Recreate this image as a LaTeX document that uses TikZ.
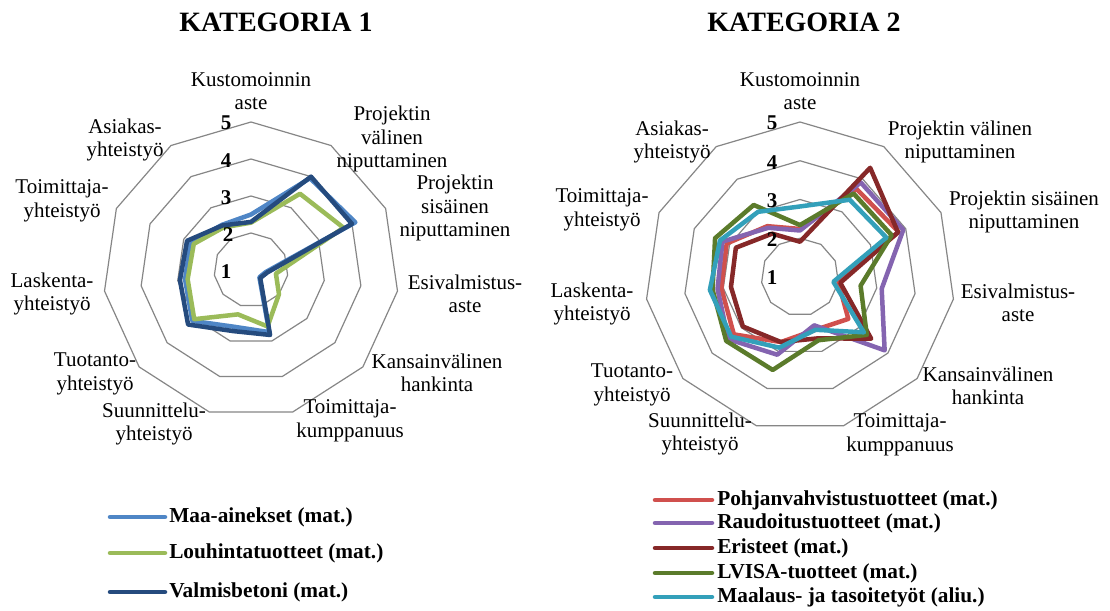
\documentclass[tikz,border=0pt]{standalone}
\usepackage{fontspec}
\setmainfont{Liberation Serif}
\definecolor{ringgray}{HTML}{868686}
\definecolor{maaC}{HTML}{4F86C6}
\definecolor{louC}{HTML}{9BBB59}
\definecolor{valC}{HTML}{254B7E}
\definecolor{pohC}{HTML}{D0504D}
\definecolor{rauC}{HTML}{8464B0}
\definecolor{eriC}{HTML}{862828}
\definecolor{lviC}{HTML}{5B7B2B}
\definecolor{maaluC}{HTML}{33A0BA}
% polygon of one data series: name, style, unit length, 11 values (centre = 1)
\newcommand\radarpoly[4]{%
  \foreach \v [count=\k from 0] in {#4}{
    \coordinate (#1-\k) at ({90-\k*360/11}:{(\v-1)*#3});
  }
  \draw[#2] (#1-0) \foreach \k in {1,...,10}{ -- (#1-\k)} -- cycle;
}
% the four grey rings 2..5
\newcommand\radarrings[1]{%
  \foreach \i in {1,...,4}{
    \draw[ringline] (90:{\i*#1}) \foreach \k in {1,...,10}{ -- ({90-\k*360/11}:{\i*#1})} -- cycle;
  }
}
\begin{document}
\begin{tikzpicture}[x=1pt,y=-1pt,
  ringline/.style={draw=ringgray, line width=1.2pt},
  series/.style={line width=4.5pt, line join=round},
  lbl/.style={font=\fontsize{21}{23.5}\selectfont, align=center, inner sep=0pt},
  num/.style={font=\fontsize{21}{22}\selectfont\bfseries, inner sep=0pt},
  ttl/.style={font=\fontsize{28}{30}\selectfont\bfseries, inner sep=0pt},
  legtext/.style={font=\fontsize{21.3}{22}\selectfont\bfseries, anchor=west, inner sep=0pt},
  legline/.style={line width=4.5pt, line cap=round}]
\useasboundingbox (0,0) rectangle (1110,610);
\fill[white] (0,0) rectangle (1110,610);

% ---------------- KATEGORIA 1 ----------------
\node[ttl] (t1) at (276,22) {KATEGORIA 1};
\begin{scope}[shift={(251,270)}, yscale=-1]
  \radarrings{37}
  \radarpoly{maa}{series, draw=maaC}{37}{2.5, 3.95, 4.1, 1.4, 1.3, 2.75, 2.6, 3.1, 2.8, 2.8, 2.45}
  \radarpoly{lou}{series, draw=louC}{37}{2.28, 3.45, 3.75, 1.68, 2.0, 2.59, 2.25, 3.03, 2.73, 2.7, 2.37}
  \radarpoly{val}{series, draw=valC}{37}{2.3, 4.0, 4.0, 1.45, 1.33, 2.83, 2.72, 3.25, 2.94, 2.9, 2.43}
\end{scope}
\node[num] (a5) at (226,123) {5};
\node[num] (a4) at (226,161) {4};
\node[num] (a3) at (226,198) {3};
\node[num] (a2) at (228,235) {2};
\node[num] (a1) at (226,272) {1};

\node[lbl] (k1l0) at (251,91) {Kustomoinnin\\aste};
\node[lbl] (k1l1) at (392,139) {Projektin\\välinen\\niputtaminen};
\node[lbl] (k1l2) at (455,208) {Projektin\\sisäinen\\niputtaminen};
\node[lbl] (k1l3) at (465,294) {Esivalmistus-\\aste};
\node[lbl] (k1l4) at (437,373) {Kansainvälinen\\hankinta};
\node[lbl] (k1l5) at (350,421) {Toimittaja-\\kumppanuus};
\node[lbl] (k1l6) at (154,424) {Suunnittelu-\\yhteistyö};
\node[lbl] (k1l7) at (95,374) {Tuotanto-\\yhteistyö};
\node[lbl] (k1l8) at (52,294) {Laskenta-\\yhteistyö};
\node[lbl] (k1l9) at (62,201) {Toimittaja-\\yhteistyö};
\node[lbl] (k1l10) at (125,140) {Asiakas-\\yhteistyö};

\draw[legline, maaC] (110,517) -- (165,517) node[legtext, text=black] (lg1) at (167,517) {Maa-ainekset (mat.)};
\draw[legline, louC] (110,553) -- (165,553) node[legtext, text=black] (lg2) at (167,553) {Louhintatuotteet (mat.)};
\draw[legline, valC] (110,592) -- (165,592) node[legtext, text=black] (lg3) at (167,592) {Valmisbetoni (mat.)};

% ---------------- KATEGORIA 2 ----------------
\node[ttl] (t2) at (804,22) {KATEGORIA 2};
\begin{scope}[shift={(800,277)}, yscale=-1]
  \radarrings{38.75}
  \radarpoly{poh}{series, draw=pohC}{38.75}{2.24, 3.7, 3.8, 2.0, 2.65, 2.42, 2.75, 3.26, 3.05, 3.08, 2.56}
  \radarpoly{rau}{series, draw=rauC}{38.75}{2.2, 3.9, 3.93, 3.13, 3.89, 2.3, 3.09, 3.45, 3.15, 3.2, 2.51}
  \radarpoly{eri}{series, draw=eriC}{38.75}{1.91, 4.35, 3.78, 2.05, 3.43, 2.65, 2.75, 2.95, 2.8, 2.82, 2.33}
  \radarpoly{lvi}{series, draw=lviC}{38.75}{2.34, 3.56, 3.6, 2.58, 3.28, 2.7, 3.5, 3.52, 3.28, 3.41, 3.21}
  \radarpoly{mal}{series, draw=maaluC}{38.75}{2.82, 3.37, 3.45, 1.87, 3.18, 2.42, 2.9, 3.35, 3.35, 3.27, 3.0}
\end{scope}
\node[num] (b5) at (772,123) {5};
\node[num] (b4) at (772,163) {4};
\node[num] (b3) at (772,201) {3};
\node[num] (b2) at (772,240) {2};
\node[num] (b1) at (772,278) {1};

\node[lbl] (k2l0) at (800,91) {Kustomoinnin\\aste};
\node[lbl] (k2l1) at (960,142) {Projektin välinen\\niputtaminen};
\node[lbl] (k2l2) at (1024,212) {Projektin sisäinen\\niputtaminen};
\node[lbl] (k2l3) at (1018,303) {Esivalmistus-\\aste};
\node[lbl] (k2l4) at (988,386) {Kansainvälinen\\hankinta};
\node[lbl] (k2l5) at (900,435) {Toimittaja-\\kumppanuus};
\node[lbl] (k2l6) at (700,434) {Suunnittelu-\\yhteistyö};
\node[lbl] (k2l7) at (632,385) {Tuotanto-\\yhteistyö};
\node[lbl] (k2l8) at (592,304) {Laskenta-\\yhteistyö};
\node[lbl] (k2l9) at (602,210) {Toimittaja-\\yhteistyö};
\node[lbl] (k2l10) at (672,142) {Asiakas-\\yhteistyö};

\draw[legline, pohC] (655,500) -- (712,500) node[legtext, text=black] (lh1) at (715,500) {Pohjanvahvistustuotteet (mat.)};
\draw[legline, rauC] (655,523) -- (712,523) node[legtext, text=black] (lh2) at (715,523) {Raudoitustuotteet (mat.)};
\draw[legline, eriC] (655,548) -- (712,548) node[legtext, text=black] (lh3) at (715,548) {Eristeet (mat.)};
\draw[legline, lviC] (655,573) -- (712,573) node[legtext, text=black] (lh4) at (715,573) {LVISA-tuotteet (mat.)};
\draw[legline, maaluC] (655,597) -- (712,597) node[legtext, text=black] (lh5) at (715,597) {Maalaus- ja tasoitetyöt (aliu.)};
\end{tikzpicture}
\end{document}
